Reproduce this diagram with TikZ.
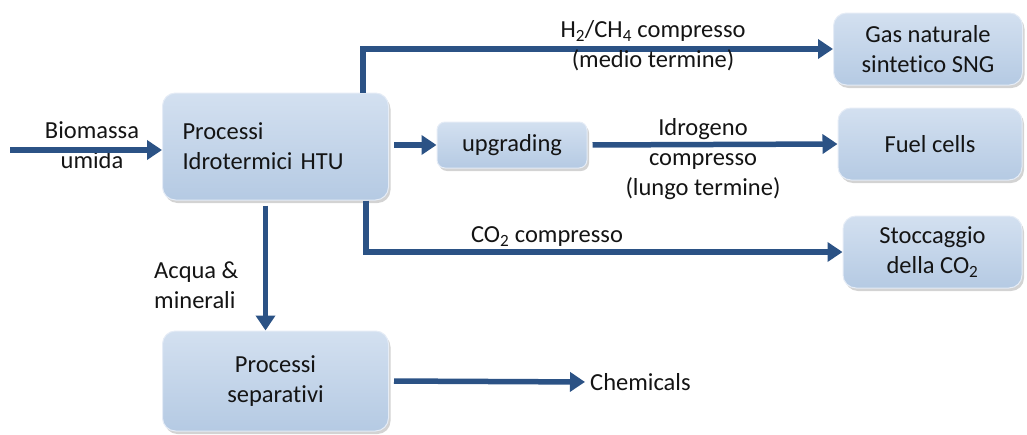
\documentclass[tikz,border=0pt]{standalone}
\usepackage{fontspec}
\setmainfont{Carlito}[RawFeature={-liga;-dlig}]
\usepackage{tikz}
\usetikzlibrary{arrows.meta,positioning,calc,shadows}
\definecolor{flowblue}{HTML}{2B5285}
\definecolor{boxtop}{HTML}{D3E0F0}
\definecolor{boxbot}{HTML}{B5CAE3}
\definecolor{inkdark}{HTML}{141414}
\newcommand{\SUB}[1]{\textsubscript{#1}}

\begin{document}
\begin{tikzpicture}[
    x=1pt, y=-1pt,
    font=\fontsize{24.5}{30}\selectfont, text=inkdark,
    procbox/.style={rounded corners=13pt, top color=boxtop, bottom color=boxbot,
        draw=boxtop!60!white, line width=1pt,
        drop shadow={shadow xshift=2pt, shadow yshift=-3pt, opacity=0.35},
        align=center, inner sep=0pt},
    flow/.style={-{Triangle[length=15pt, width=19pt]}, flowblue, line width=5.5pt},
    lbl/.style={align=center, inner sep=0pt}
]

% Frame
\useasboundingbox (0,0) rectangle (1027,434);

% Process boxes
\node[procbox, minimum width=226pt, minimum height=107pt, text width=186pt,
      align=left] (htu) at (275.5,146.5) {Processi\\Idrotermici HTU};
\node[procbox, rounded corners=8pt, minimum width=150pt, minimum height=46pt]
      (upg) at (512,145) {upgrading};
\node[procbox, minimum width=189pt, minimum height=72pt] (sng) at (928,49)
      {Gas naturale\\sintetico SNG};
\node[procbox, minimum width=184pt, minimum height=72pt] (fuel) at (930,144)
      {Fuel cells};
\node[procbox, minimum width=179pt, minimum height=72pt] (sto) at (932.5,252)
      {Stoccaggio\\della CO\SUB{2}};
\node[procbox, minimum width=226pt, minimum height=100pt] (sep) at (275.5,381)
      {Processi\\separativi};

% Input
\coordinate (bioin) at (10,150);
\node[lbl] (bio) at (92,145) {Biomassa\\umida};
\draw[flow] (bioin) -- (htu.west |- bioin);

% Main outputs
\draw[flow, shorten <=5pt] (htu.east |- upg.west) -- (upg.west);
\draw[flow] ([xshift=-26pt]htu.north east) |- (sng.west);
\draw[flow, shorten <=5pt] (upg.east) -- (fuel.west);
\draw[flow] ([xshift=-23pt]htu.south east) |- (sto.west);
\draw[flow, shorten <=5pt] ([xshift=-10pt]htu.south) -- ([xshift=-10pt]sep.north);

% Chemicals
\node[lbl, anchor=west] (chem) at (590,382) {Chemicals};
\draw[flow, shorten <=5pt, shorten >=5pt] (sep.east) -- (chem.west);

% Flow labels
\node[lbl] (h2ch4) at (653,46) {H\SUB{2}/CH\SUB{4} compresso\\(medio termine)};
\node[lbl] (h2) at (703,159) {Idrogeno\\compresso\\(lungo termine)};
\node[lbl] (co2) at (547,237) {CO\SUB{2} compresso};
\node[lbl, align=left, anchor=west] (acqua) at (154,285) {Acqua \&\\minerali};

\end{tikzpicture}
\end{document}
